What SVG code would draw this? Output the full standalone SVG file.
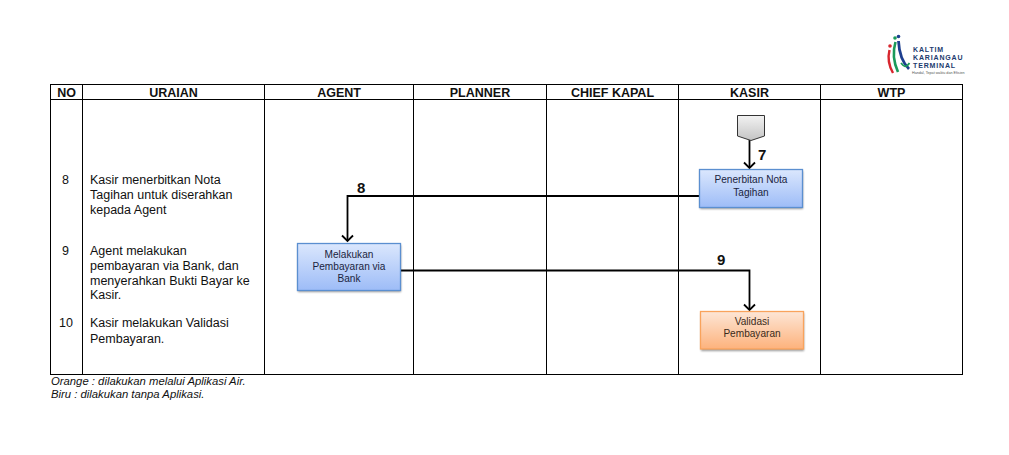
<svg xmlns="http://www.w3.org/2000/svg" width="1009" height="455" viewBox="0 0 1009 455">
<style>
text{font-family:"Liberation Sans",Arial,sans-serif;fill:#111}
.h{font-size:12.5px;font-weight:bold;text-anchor:middle}
.b{font-size:12.5px}
.n{font-size:10.1px;text-anchor:middle;fill:#1a2440}
.o{font-size:10.1px;text-anchor:middle;fill:#3a2a1a}
.s{font-size:15px;font-weight:bold}
.f{font-size:11.3px;font-style:italic}
.l{font-size:7px;font-weight:bold;fill:#1c3a6e;letter-spacing:.85px}
.g{fill:none;stroke:#000;stroke-width:1}
.c{fill:none;stroke:#000;stroke-width:1.8}
.sh{fill:#000;opacity:.4;filter:url(#blur)}
</style>
<defs>
<filter id="blur" x="-10%" y="-20%" width="120%" height="140%"><feGaussianBlur stdDeviation="1"/></filter>
<linearGradient id="bl" x1="0" y1="0" x2="0" y2="1"><stop offset="0" stop-color="#dbe7fd"/><stop offset="1" stop-color="#9dbcf7"/></linearGradient>
<linearGradient id="or" x1="0" y1="0" x2="0" y2="1"><stop offset="0" stop-color="#fde6d6"/><stop offset="1" stop-color="#fdb27c"/></linearGradient>
<linearGradient id="gr" x1="0" y1="0" x2="0" y2="1"><stop offset="0" stop-color="#f2f2f2"/><stop offset="1" stop-color="#c4c4c4"/></linearGradient>
<marker id="a" markerWidth="14" markerHeight="14" refX="7" refY="11" orient="0" markerUnits="userSpaceOnUse" viewBox="0 0 14 14"><path d="M1.500 5.500L7 11L12.500 5.500" fill="none" stroke="#000" stroke-width="1.800"/></marker>
</defs>
<rect width="1009" height="455" fill="#fff"/>
<g id="logo">
<path d="M889.500 50C887.500 58 889 66 893 73" fill="none" stroke="#d8262e" stroke-width="2.400"/>
<path d="M895.500 42C892.500 52 893.500 62 898 72" fill="none" stroke="#1b9a5a" stroke-width="2.600"/>
<path d="M898.500 41C899 52 901 61 909 69" fill="none" stroke="#1d3f8f" stroke-width="2.800"/>
<path d="M901 63C904 67 906 68 909.500 63" fill="none" stroke="#1b9a5a" stroke-width="1.800"/>
<circle cx="890" cy="46" r="1.800" fill="#d8262e"/><circle cx="895" cy="38" r="1.800" fill="#1b9a5a"/><circle cx="898.500" cy="36.500" r="1.800" fill="#1d3f8f"/>
<text class="l" x="913" y="52">KALTIM</text>
<text class="l" x="913" y="60.100">KARIANGAU</text>
<text class="l" x="913" y="68.200">TERMINAL</text>
<text x="912" y="73.800" style="font-size:3.7px;fill:#555">Handal, Tepat waktu dan Efisien</text>
</g>
<g id="table">
<rect class="g" x="50.500" y="84.500" width="912" height="290"/>
<line class="g" x1="50.500" y1="99.500" x2="962.500" y2="99.500"/>
<path class="g" d="M82.500 84.500V374.500M264.500 84.500V374.500M413.500 84.500V374.500M546.500 84.500V374.500M678.500 84.500V374.500M820.500 84.500V374.500"/>
<text class="h" x="66.500" y="96.500">NO</text>
<text class="h" x="173.500" y="96.500">URAIAN</text>
<text class="h" x="339" y="96.500">AGENT</text>
<text class="h" x="480" y="96.500">PLANNER</text>
<text class="h" x="612.500" y="96.500">CHIEF KAPAL</text>
<text class="h" x="749.500" y="96.500">KASIR</text>
<text class="h" x="891.500" y="96.500">WTP</text>
</g>
<g id="uraian">
<text class="b" x="62" y="184">8</text>
<text class="b" x="90" y="184">Kasir menerbitkan Nota</text>
<text class="b" x="90" y="199">Tagihan untuk diserahkan</text>
<text class="b" x="90" y="214">kepada Agent</text>
<text class="b" x="62" y="255">9</text>
<text class="b" x="90" y="255">Agent melakukan</text>
<text class="b" x="90" y="270">pembayaran via Bank, dan</text>
<text class="b" x="90" y="285">menyerahkan Bukti Bayar ke</text>
<text class="b" x="90" y="299">Kasir.</text>
<text class="b" x="59" y="327">10</text>
<text class="b" x="90" y="327">Kasir melakukan Validasi</text>
<text class="b" x="90" y="343">Pembayaran.</text>
</g>
<g id="connectors">
<path class="c" d="M749.500 140V168" marker-end="url(#a)"/>
<path class="c" d="M699 196H347.500V241" marker-end="url(#a)"/>
<path class="c" d="M401 270.500H749.500V310" marker-end="url(#a)"/>
<text class="s" x="758" y="160">7</text>
<text class="s" x="357" y="193">8</text>
<text class="s" x="717" y="265">9</text>
</g>
<g id="offpage">
<path d="M737.500 115.500H764.500V136L751 140.500L737.500 136Z" fill="url(#gr)" stroke="#333" stroke-width="1"/>
</g>
<g id="penerbitan">
<rect class="sh" x="700" y="171" width="103" height="38"/>
<rect x="699.500" y="169.500" width="103" height="38" fill="url(#bl)" stroke="#5b8fd0" stroke-width="1.300"/>
<text class="n" x="751" y="183">Penerbitan Nota</text>
<text class="n" x="751" y="196">Tagihan</text>
</g>
<g id="melakukan">
<rect class="sh" x="298" y="245" width="103" height="47"/>
<rect x="297.500" y="243.500" width="103" height="47" fill="url(#bl)" stroke="#5b8fd0" stroke-width="1.300"/>
<text class="n" x="349" y="257.500">Melakukan</text>
<text class="n" x="349" y="269.500">Pembayaran via</text>
<text class="n" x="349" y="281.500">Bank</text>
</g>
<g id="validasi">
<rect class="sh" x="701" y="313" width="103" height="38"/>
<rect x="700.500" y="311.500" width="103" height="37.500" fill="url(#or)" stroke="#f9a35c" stroke-width="1.300"/>
<text class="o" x="752" y="324.500">Validasi</text>
<text class="o" x="752" y="337">Pembayaran</text>
</g>
<g id="legend">
<text class="f" x="51" y="384.500">Orange : dilakukan melalui Aplikasi Air.</text>
<text class="f" x="51" y="397.500">Biru : dilakukan tanpa Aplikasi.</text>
</g>
</svg>
